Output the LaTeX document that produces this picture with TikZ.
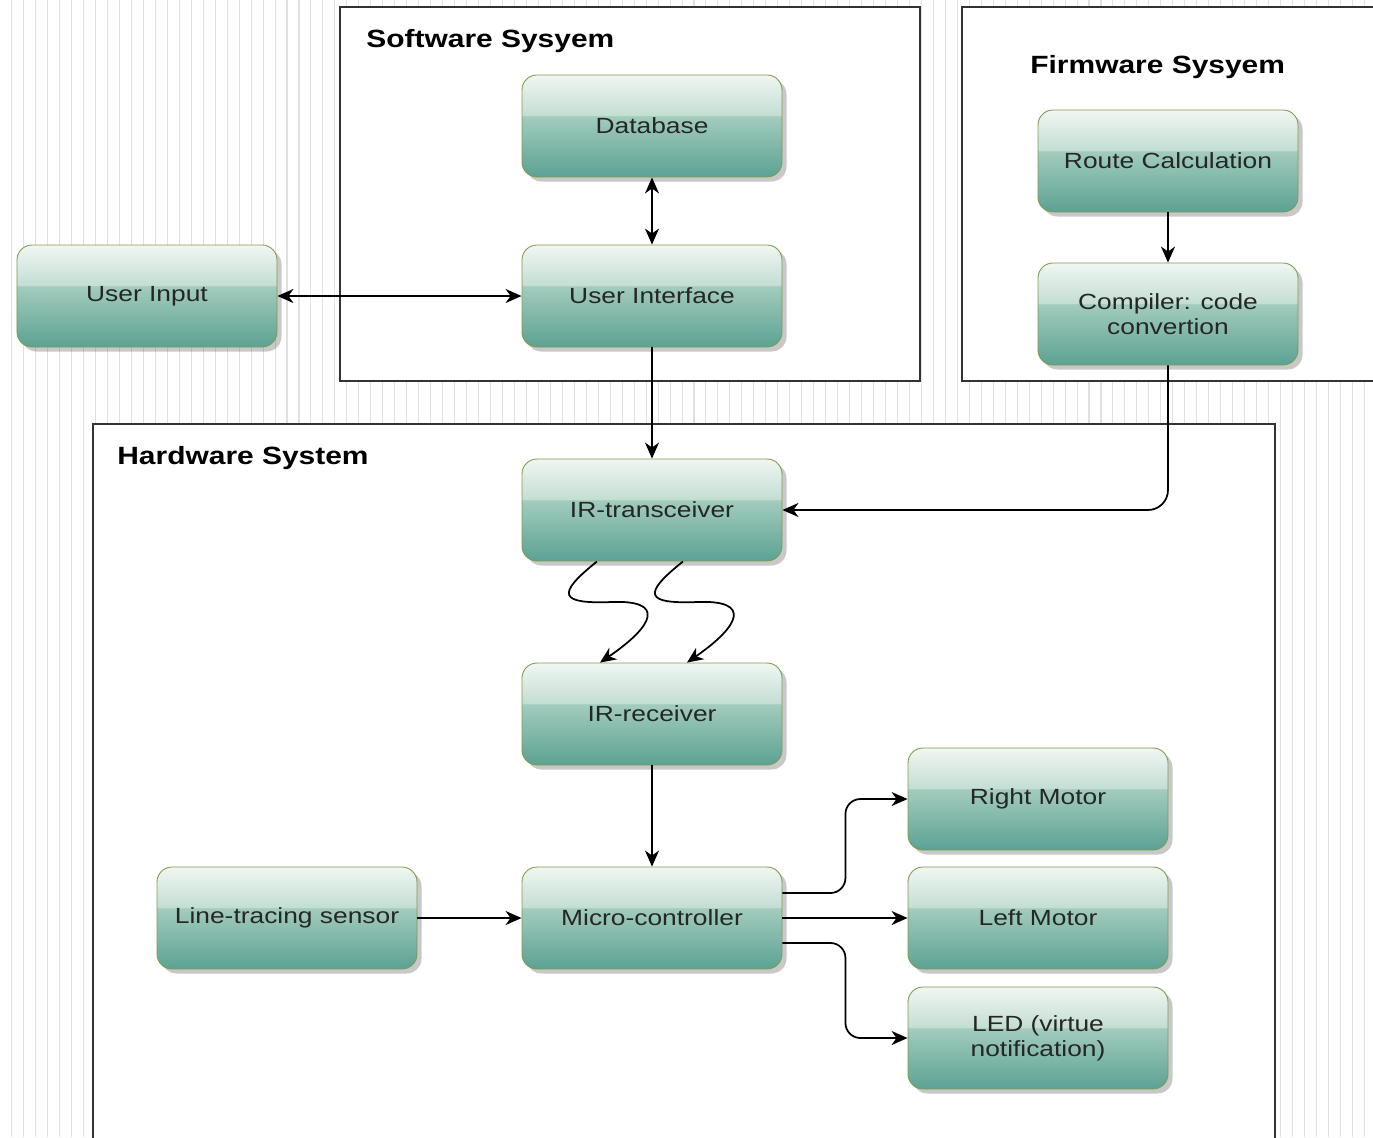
\documentclass[tikz,border=0pt]{standalone}
\usepackage{fontspec}
\setmainfont{Liberation Sans}[FakeStretch=1.2]
\usepackage{tikz}
\usetikzlibrary{arrows.meta,shadows}
\definecolor{boxedge}{HTML}{7E9C4E}
\definecolor{gtop}{HTML}{F1F6F2}
\definecolor{gmidA}{HTML}{C3DED2}
\definecolor{gmidB}{HTML}{A2CCBE}
\definecolor{gbot}{HTML}{5CA293}
\definecolor{stripecol}{HTML}{E0E0E0}
\pgfdeclareverticalshading{glossy}{100bp}{color(0bp)=(gbot); color(25bp)=(gbot);
  color(54.9bp)=(gmidB); color(55.1bp)=(gmidA); color(75bp)=(gtop); color(100bp)=(gtop)}

\tikzset{
  block/.style={rectangle, rounded corners=3mm, draw=boxedge, line width=0.5pt,
    minimum width=52mm, minimum height=20.4mm, align=center, text=black!85,
    font=\fontsize{12.5}{14.2}\selectfont, shading=glossy,
    drop shadow={shadow xshift=0.9mm, shadow yshift=-0.9mm, opacity=0.3, fill=black!70}},
  sysbox/.style={draw=black!80, line width=0.4mm, fill=white},
  systitle/.style={font=\bfseries\fontsize{14.2}{16}\selectfont, anchor=west, inner sep=0pt},
  arr/.style={-{Stealth[length=3.2mm,width=2.8mm,inset=1mm]}, line width=0.35mm},
  darr/.style={{Stealth[length=3.2mm,width=2.8mm,inset=1mm]}-{Stealth[length=3.2mm,width=2.8mm,inset=1mm]}, line width=0.35mm},
}

\begin{document}
\begin{tikzpicture}[x=0.2mm, y=-0.2mm]
    \useasboundingbox (0,0) rectangle (1373,1137);
    \clip (0,0) rectangle (1373,1137);
    % background stripes
    \foreach \i in {0,...,114}
      \draw[stripecol, line width=0.6pt] (11.7+11.97*\i,0) -- (11.7+11.97*\i,1137);
    % the three systems
    \draw[sysbox] (340,7) rectangle (920,381);
    \draw[sysbox] (962,7) rectangle (1385,381);
    \draw[sysbox] (93,424) rectangle (1275,1150);
    \node[systitle] (swt) at (366,41) {Software Sysyem};
    \node[systitle] (fwt) at (1030,67) {Firmware Sysyem};
    \node[systitle] (hwt) at (117,458) {Hardware System};
    % blocks
    \node[block] (db)   at (652,126)  {Database};
    \node[block] (ui)   at (652,296)  {User Interface};
    \node[block] (uin)  at (147,296)  {User Input};
    \node[block] (route) at (1168,161) {Route Calculation};
    \node[block] (comp) at (1168,314) {Compiler: code\\convertion};
    \node[block] (irt)  at (652,510)  {IR-transceiver};
    \node[block] (irr)  at (652,714)  {IR-receiver};
    \node[block] (mcu)  at (652,918)  {Micro-controller};
    \node[block] (lts)  at (287,918)  {Line-tracing sensor};
    \node[block] (rmot) at (1038,799) {Right Motor};
    \node[block] (lmot) at (1038,918) {Left Motor};
    \node[block] (led)  at (1038,1038) {LED (virtue\\notification)};
    % connections
    \draw[darr] (db) -- (ui);
    \draw[darr] (uin) -- (ui);
    \draw[arr] (ui) -- (irt);
    \draw[arr] (route) -- (comp);
    \draw[arr, rounded corners=4mm] (comp.south) |- (irt.east);
    % infrared link
    \draw[arr] ([xshift=-11mm]irt.south) .. controls (555,595) and (560,604) .. (612,602)
      .. controls (665,600) and (655,625) .. ([xshift=-10.4mm]irr.north);
    \draw[arr] ([xshift=6.2mm]irt.south) .. controls (641,595) and (646,604) .. (698,602)
      .. controls (751,600) and (741,625) .. ([xshift=7mm]irr.north);
    \draw[arr] (irr) -- (mcu);
    \draw[arr] (lts) -- (mcu);
    % outputs
    \draw[arr, rounded corners=3mm] ([yshift=5mm]mcu.east) -- ++(63,0) |- (rmot.west);
    \draw[arr] (mcu) -- (lmot);
    \draw[arr, rounded corners=3mm] ([yshift=-5mm]mcu.east) -- ++(63,0) |- (led.west);
\end{tikzpicture}
\end{document}
